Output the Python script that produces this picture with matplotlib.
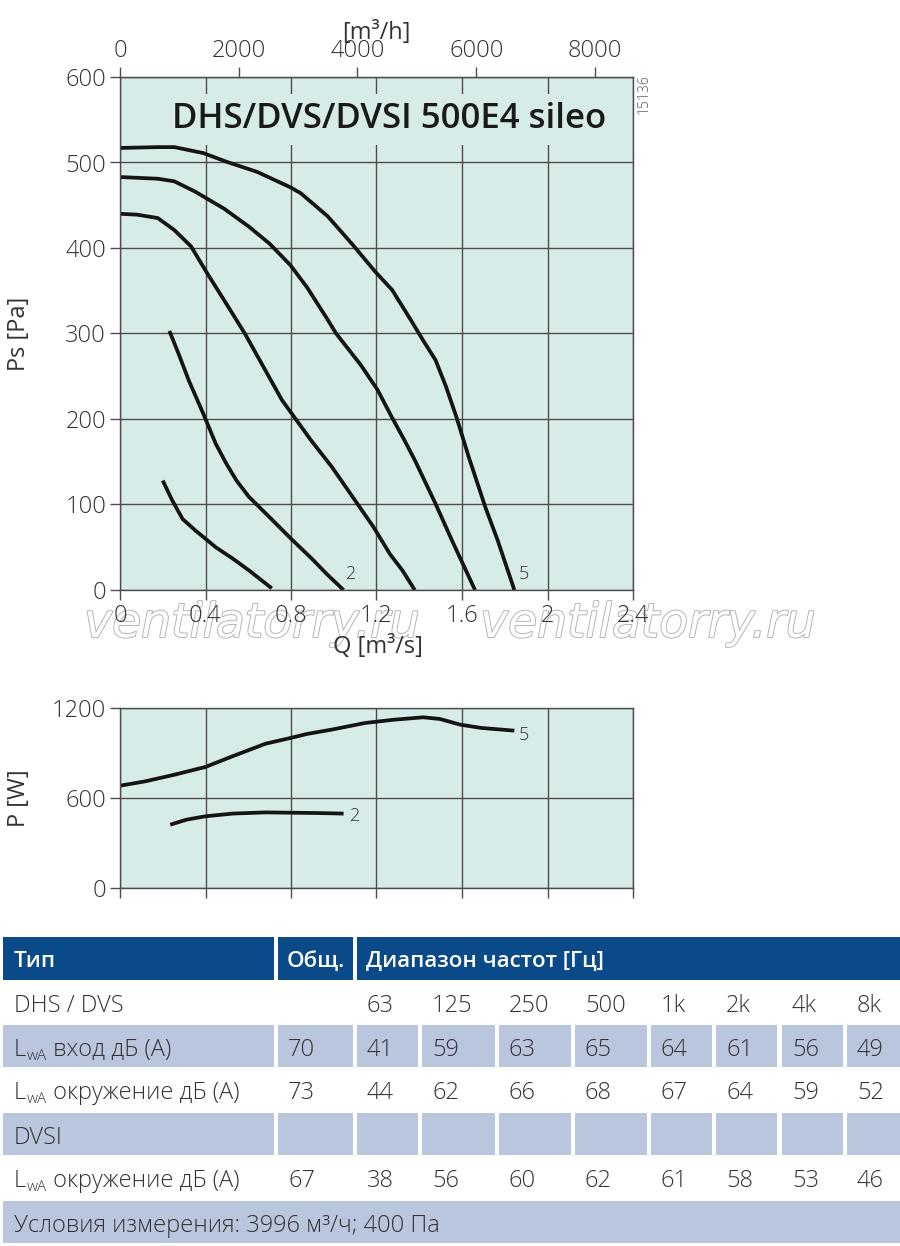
import matplotlib
matplotlib.use('Agg')
import matplotlib.pyplot as plt
import matplotlib.patheffects as pe
from matplotlib.patches import Rectangle

# --- pressure curves: Q [m3/s] -> Ps [Pa], lowest speed first
q1 = [0.20, 0.244, 0.293, 0.351, 0.448, 0.526, 0.603, 0.71]
ps1 = [128, 105, 83, 70, 50, 37, 23, 2]

q2 = [0.231, 0.273, 0.322, 0.39, 0.448, 0.497, 0.545, 0.603, 0.70, 0.80, 0.90, 0.97, 1.046]
ps2 = [303, 277, 245, 206, 171, 148, 128, 109, 85, 60, 36, 18, 0]

q3 = [0, 0.08, 0.177, 0.254, 0.332, 0.409, 0.487, 0.584, 0.68, 0.758, 0.816, 0.894, 0.991,
      1.088, 1.185, 1.263, 1.321, 1.379]
ps3 = [440, 439, 435, 421, 402, 370, 339, 300, 257, 222, 202, 175, 144, 109, 74, 42, 23, 0]

q4 = [0, 0.177, 0.254, 0.351, 0.487, 0.603, 0.70, 0.797, 0.875, 0.972, 1.011, 1.127, 1.205,
      1.272, 1.331, 1.379, 1.476, 1.553, 1.661]
ps4 = [483, 481, 478, 466, 446, 425, 405, 380, 354, 316, 300, 263, 234, 202, 175, 152, 101, 58, 0]

q5 = [0, 0.177, 0.254, 0.39, 0.497, 0.642, 0.797, 0.846, 0.972, 1.088, 1.195, 1.273, 1.36,
      1.418, 1.476, 1.525, 1.573, 1.631, 1.709, 1.767, 1.845]
ps5 = [517, 518, 518, 511, 501, 489, 471, 464, 437, 404, 372, 351, 316, 292, 269, 238, 203,
       156, 97, 58, 0]

# --- power curves: Q [m3/s] -> P [W]
qp2 = [0.235, 0.312, 0.4, 0.526, 0.681, 0.797, 0.914, 1.046]
p2 = [422, 456, 478, 496, 504, 502, 500, 496]
qp5 = [0, 0.118, 0.254, 0.4, 0.526, 0.681, 0.797, 0.875, 0.991, 1.146, 1.282, 1.418, 1.496,
       1.592, 1.69, 1.845]
p5 = [682, 711, 755, 807, 878, 962, 1000, 1027, 1056, 1100, 1122, 1138, 1127, 1089, 1067, 1049]

q_ticks = [0, 0.4, 0.8, 1.2, 1.6, 2.0, 2.4]
q_ticklabels = ['0', '0.4', '0.8', '1.2', '1.6', '2', '2.4']
ps_ticks = [0, 100, 200, 300, 400, 500, 600]
p_ticks = [0, 600, 1200]
qh_ticks = [0, 2000, 4000, 6000, 8000]

title = 'DHS/DVS/DVSI 500E4 sileo'

# --- sound table
freq_labels = ['63', '125', '250', '500', '1k', '2k', '4k', '8k']
inlet_total = '70'
inlet = ['41', '59', '63', '65', '64', '61', '56', '49']
surround_total = '73'
surround = ['44', '62', '66', '68', '67', '64', '59', '52']
dvsi_total = '67'
dvsi_surround = ['38', '56', '60', '62', '61', '58', '53', '46']
conditions = 'Условия измерения: 3996 м³/ч; 400 Па'

plt.rcParams['font.family'] = ['Open Sans', 'DejaVu Sans']
plt.rcParams['font.weight'] = 'light'

bg = '#d7ebe8'
grid_c = '#4d4d4d'
txt = '#333333'
curve_c = '#141414'
hdr_c = '#0b4a89'
cell_c = '#b9c6de'

fig = plt.figure(figsize=(9, 12.46), dpi=100)

# ---------------- pressure chart
ax = fig.add_axes([120 / 900, 1 - 590 / 1246, 513 / 900, 513 / 1246])
ax.set_facecolor(bg)
for q, p in [(q1, ps1), (q2, ps2), (q3, ps3), (q4, ps4), (q5, ps5)]:
    ax.plot(q, p, color=curve_c, lw=2.7, solid_joinstyle='round', solid_capstyle='butt')
ax.annotate('2', xy=(q2[-1], ps2[-1]), xytext=(1, 5), textcoords='offset points',
            fontsize=13, color=txt, ha='left', va='bottom')
ax.annotate('5', xy=(q5[-1], ps5[-1]), xytext=(3, 5), textcoords='offset points',
            fontsize=13, color=txt, ha='left', va='bottom')
ax.set_xlim(0, 2.4)
ax.set_ylim(0, 600)
ax.set_xticks(q_ticks)
ax.set_xticklabels(q_ticklabels)
ax.set_yticks(ps_ticks)
ax.set_axisbelow(True)
ax.grid(True, color=grid_c, lw=1)
ax.tick_params(direction='out', length=7, width=1, color=grid_c, labelsize=17,
               labelcolor=txt, pad=3)
for s in ax.spines.values():
    s.set_color(grid_c)
    s.set_linewidth(1)
ax.set_ylabel('Ps [Pa]', fontsize=17, color=txt)
ax.yaxis.set_label_coords(-0.173, 0.5)
ax.set_xlabel('Q [m³/s]', fontsize=17, color=txt)
ax.xaxis.set_label_coords(0.503, -0.088)
ax.text(1.257, 540, title, fontsize=25, fontweight='semibold', color='#1a1a1a',
        ha='center', va='baseline', zorder=3,
        bbox=dict(boxstyle='square,pad=0.25', fc=bg, ec='none'))

secax = ax.secondary_xaxis('top', functions=(lambda x: x * 3600, lambda x: x / 3600))
secax.set_xticks(qh_ticks)
secax.tick_params(direction='out', length=7, width=1, color=grid_c, labelsize=17,
                  labelcolor=txt, pad=3)
secax.spines['top'].set_color(grid_c)
secax.set_xlabel('[m³/h]', fontsize=17, color=txt, labelpad=0)

fig.text(644 / 900, 1 - 94 / 1246, '15136', rotation=90, fontsize=10, color='#555555',
         ha='center', va='center')

# ---------------- power chart
axp = fig.add_axes([120 / 900, 1 - 888 / 1246, 513 / 900, 180 / 1246])
axp.set_facecolor(bg)
axp.plot(qp5, p5, color=curve_c, lw=2.7, solid_joinstyle='round', solid_capstyle='butt')
axp.plot(qp2, p2, color=curve_c, lw=2.7, solid_joinstyle='round', solid_capstyle='butt')
axp.annotate('5', xy=(qp5[-1], p5[-1]), xytext=(3, -3), textcoords='offset points',
             fontsize=13, color=txt, ha='left', va='center')
axp.annotate('2', xy=(qp2[-1], p2[-1]), xytext=(4, -2), textcoords='offset points',
             fontsize=13, color=txt, ha='left', va='center')
axp.set_xlim(0, 2.4)
axp.set_ylim(0, 1200)
axp.set_xticks(q_ticks)
axp.set_xticklabels([])
axp.set_yticks(p_ticks)
axp.set_axisbelow(True)
axp.grid(True, color=grid_c, lw=1)
axp.tick_params(direction='out', length=7, width=1, color=grid_c, labelsize=17,
                labelcolor=txt, pad=3)
for s in axp.spines.values():
    s.set_color(grid_c)
    s.set_linewidth(1)
axp.set_ylabel('P [W]', fontsize=17, color=txt)
axp.yaxis.set_label_coords(-0.173, 0.5)

# ---------------- watermark
for xc in [252, 648]:
    fig.text(xc / 900, 1 - 637 / 1246, 'ventilatorry.ru', fontsize=34, style='italic',
             family='DejaVu Sans', color='white', ha='center', va='baseline', zorder=-1,
             path_effects=[pe.withStroke(linewidth=1.3, foreground='#b0b0b0')])

# ---------------- sound table (pixel coordinates)
axt = fig.add_axes([0, 0, 1, 1], zorder=-2)
axt.set_xlim(0, 900)
axt.set_ylim(1246, 0)
axt.axis('off')
axt.patch.set_visible(False)

col0 = (3, 274)
col1 = (278, 353)
fcols = [(357, 418), (422, 495), (499, 571), (575, 647), (651, 712), (716, 777),
         (782, 843), (847, 900)]
rows = [(937, 980), (983, 1023), (1025, 1067), (1069, 1110), (1113, 1155), (1157, 1198),
        (1201, 1243)]
body_fs = 17


def cell(x0x1, y0y1, color):
    axt.add_patch(Rectangle((x0x1[0], y0y1[0]), x0x1[1] - x0x1[0], y0y1[1] - y0y1[0],
                            fc=color, ec='none'))


def put(x, row, s, **kw):
    kw.setdefault('color', txt)
    kw.setdefault('fontsize', body_fs)
    return axt.text(x, row[1] - 11, s, ha='left', va='baseline', **kw)


def lwa(row, rest):
    t0 = put(14, row, 'L')
    t1 = axt.annotate('wA', xy=(1, 0), xycoords=t0, xytext=(0.3, -1.5),
                      textcoords='offset points', fontsize=11, color=txt, va='bottom', ha='left')
    axt.annotate(rest, xy=(1, 0), xycoords=(t1, t0), fontsize=body_fs, color=txt,
                 va='bottom', ha='left')


# header
hdr = rows[0]
cell(col0, hdr, hdr_c)
cell(col1, hdr, hdr_c)
cell((fcols[0][0], fcols[-1][1]), hdr, hdr_c)
put(14, hdr, 'Тип', color='white', fontsize=16, fontweight='semibold').set_y(hdr[1] - 13)
put(col1[0] + 9, hdr, 'Общ.', color='white', fontsize=16, fontweight='semibold').set_y(hdr[1] - 13)
put(fcols[0][0] + 9, hdr, 'Диапазон частот [Гц]', color='white', fontsize=16,
    fontweight='semibold').set_y(hdr[1] - 13)

# DHS / DVS frequency row
put(14, rows[1], 'DHS / DVS')
for (a, b), s in zip(fcols, freq_labels):
    put(a + 10, rows[1], s)

# shaded rows
for r in [rows[2], rows[4]]:
    cell(col0, r, cell_c)
    cell(col1, r, cell_c)
    for c in fcols:
        cell(c, r, cell_c)
cell((col0[0], 900), rows[6], cell_c)

lwa(rows[2], ' вход дБ (A)')
put(col1[0] + 10, rows[2], inlet_total)
for (a, b), s in zip(fcols, inlet):
    put(a + 10, rows[2], s)

lwa(rows[3], ' окружение дБ (A)')
put(col1[0] + 10, rows[3], surround_total)
for (a, b), s in zip(fcols, surround):
    put(a + 10, rows[3], s)

put(14, rows[4], 'DVSI')

lwa(rows[5], ' окружение дБ (A)')
put(col1[0] + 10, rows[5], dvsi_total)
for (a, b), s in zip(fcols, dvsi_surround):
    put(a + 10, rows[5], s)

put(14, rows[6], conditions)

fig.savefig('out.png', dpi=100)
